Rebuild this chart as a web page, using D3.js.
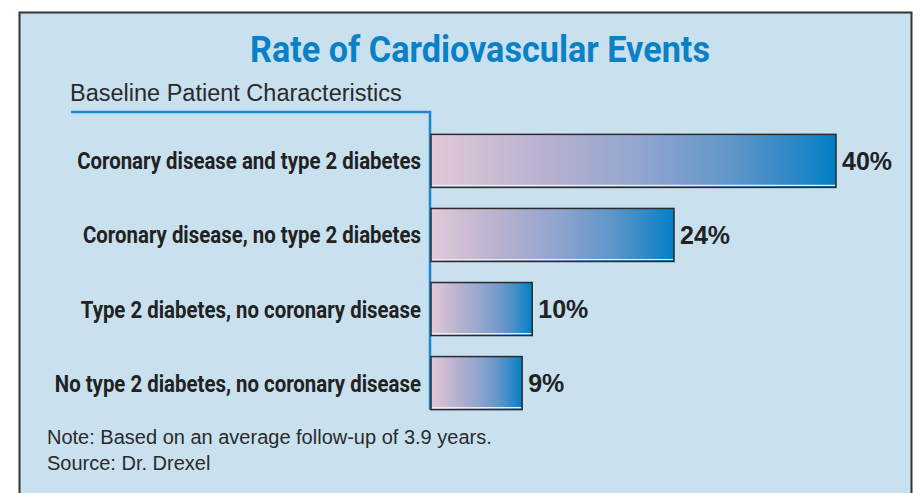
<!DOCTYPE html>
<html>
<head>
<meta charset="utf-8">
<script src="https://cdn.jsdelivr.net/npm/d3@7"></script>
<style>
  html, body { margin: 0; padding: 0; background: #fff; }
  svg { display: block; }
</style>
</head>
<body>
<div id="chart"></div>
<script>
const categories = [
  'Coronary disease and type 2 diabetes',
  'Coronary disease, no type 2 diabetes',
  'Type 2 diabetes, no coronary disease',
  'No type 2 diabetes, no coronary disease'
];
const rates = [40, 24, 10, 9];
const valueLabels = ['40%', '24%', '10%', '9%'];
const notes = ['Note: Based on an average follow-up of 3.9 years.', 'Source: Dr. Drexel'];

const width = 922, height = 493;
const condensedFont = 'Roboto, "Liberation Sans", sans-serif';
const plain = '"Liberation Sans", Arial, Helvetica, sans-serif';

const svg = d3.select('#chart').append('svg')
  .attr('width', width)
  .attr('height', height);

// gradient used by each bar (pink -> blue)
const grad = svg.append('defs').append('linearGradient')
  .attr('id', 'barGrad')
  .attr('x1', 0).attr('x2', 1).attr('y1', 0).attr('y2', 0);
[[0, '#e2c8d8'], [0.3, '#b4b0cf'], [0.5, '#94a6d0'], [0.75, '#5e95c8'], [0.9, '#2a88c8'], [1, '#0080c4']]
  .forEach(([o, c]) => grad.append('stop').attr('offset', o).attr('stop-color', c));

// no narrow font installed, so squeeze the text horizontally
function squeezed(parent, k, xPos, yPos) {
  return parent.append('g')
    .attr('transform', `translate(${xPos},${yPos}) scale(${k},1)`)
    .append('text');
}

// panel
svg.append('rect')
  .attr('x', 19.5).attr('y', 12.5)
  .attr('width', 892).attr('height', 500)
  .attr('fill', '#c9e1ef')
  .attr('stroke', '#333')
  .attr('stroke-width', 2);

const title = squeezed(svg, 1, 480, 62)
  .attr('text-anchor', 'middle')
  .attr('font-family', condensedFont)
  .attr('font-weight', 'bold')
  .attr('font-size', 36.5)
  .attr('fill', '#0a80c6')
  .text('Rate of Cardiovascular Events');
const titleK = 460 / title.node().getComputedTextLength();
d3.select(title.node().parentNode).attr('transform', `translate(480,62) scale(${titleK},1)`);

svg.append('text')
  .attr('x', 70).attr('y', 101)
  .attr('font-family', plain)
  .attr('font-size', 23.5)
  .attr('fill', '#2a2a2a')
  .text('Baseline Patient Characteristics');

const x = d3.scaleLinear()
  .domain([0, 40])
  .range([431, 836]);

const y = d3.scaleBand()
  .domain(categories)
  .range([124, 420])
  .paddingInner(0.284)
  .paddingOuter(0.14);

// blue header line + axis
svg.append('path')
  .attr('d', `M71,112H430V${y(categories[categories.length - 1]) + y.bandwidth()}`)
  .attr('fill', 'none')
  .attr('stroke', '#1a88cc')
  .attr('stroke-width', 2.5);

const rows = svg.append('g').selectAll('g')
  .data(categories)
  .join('g');

rows.append('rect')
  .attr('x', x(0))
  .attr('y', d => y(d))
  .attr('width', (d, i) => x(rates[i]) - x(0))
  .attr('height', y.bandwidth())
  .attr('fill', 'url(#barGrad)')
  .attr('stroke', '#2b2b2b')
  .attr('stroke-width', 1.5);

// light highlight along the bottom of each bar
rows.append('line')
  .attr('x1', x(0) + 1)
  .attr('x2', (d, i) => x(rates[i]) - 1)
  .attr('y1', d => y(d) + y.bandwidth() - 2)
  .attr('y2', d => y(d) + y.bandwidth() - 2)
  .attr('stroke', '#e8eef4')
  .attr('stroke-width', 1.2);

// category labels, condensed bold
const labelNodes = [];
rows.each(function (d) {
  const t = squeezed(d3.select(this), 1, 421, y(d) + y.bandwidth() / 2)
    .attr('dy', '0.36em')
    .attr('text-anchor', 'end')
    .attr('font-family', condensedFont)
    .attr('font-weight', 'bold')
    .attr('font-size', 23.5)
    .attr('fill', '#222')
    .text(d);
  labelNodes.push(t.node());
});
const labelK = 344 / labelNodes[0].getComputedTextLength();
labelNodes.forEach((n, i) => {
  d3.select(n.parentNode).attr('transform',
    `translate(421,${y(categories[i]) + y.bandwidth() / 2}) scale(${labelK},1)`);
});

rows.append('text')
  .attr('x', (d, i) => x(rates[i]) + 6)
  .attr('y', d => y(d) + y.bandwidth() / 2)
  .attr('dy', '0.36em')
  .attr('font-family', plain)
  .attr('font-weight', 'bold')
  .attr('font-size', 25)
  .attr('fill', '#222')
  .text((d, i) => valueLabels[i]);

svg.append('g').selectAll('text')
  .data(notes)
  .join('text')
  .attr('x', 47)
  .attr('y', (d, i) => 444 + i * 26)
  .attr('font-family', plain)
  .attr('font-size', 20)
  .attr('fill', '#2a2a2a')
  .text(d => d);
</script>
</body>
</html>
